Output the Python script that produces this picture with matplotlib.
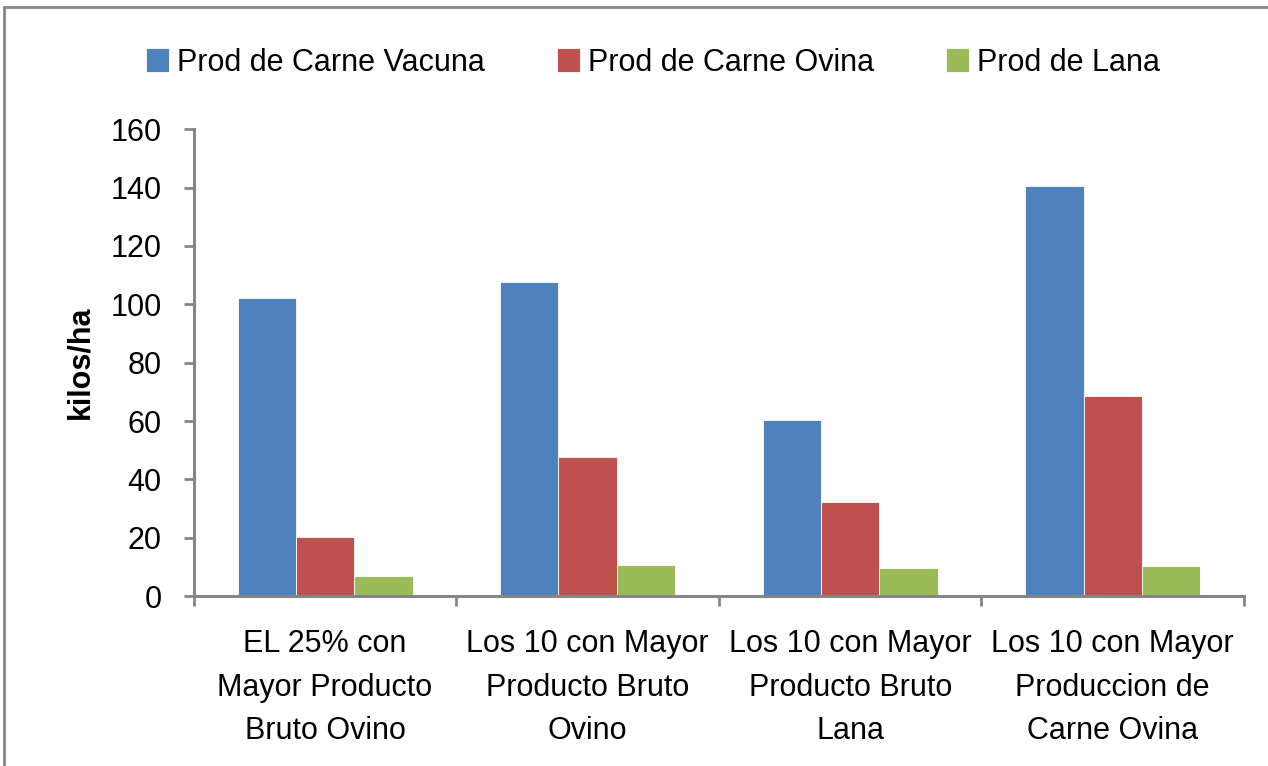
import numpy as np
import matplotlib
matplotlib.use("Agg")
import matplotlib.pyplot as plt
from matplotlib.patches import Rectangle

plt.rcParams['font.family'] = ['Liberation Sans', 'DejaVu Sans']

categories = ["EL 25% con\nMayor Producto\nBruto Ovino",
              "Los 10 con Mayor\nProducto Bruto\nOvino",
              "Los 10 con Mayor\nProducto Bruto\nLana",
              "Los 10 con Mayor\nProduccion de\nCarne Ovina"]
series_names = ["Prod de Carne Vacuna", "Prod de Carne Ovina", "Prod de Lana"]
vacuna = [102.3, 107.8, 60.4, 140.6]
ovina = [20.3, 47.7, 32.2, 68.7]
lana = [6.9, 10.5, 9.5, 10.4]
colors = ["#4f81bd", "#c0504d", "#9bbb59"]

fig = plt.figure(figsize=(12.68, 7.66), dpi=100)
ax = fig.add_axes([0.1528, 0.2219, 0.8283, 0.6093])

# outer chart border (right and bottom edges fall outside the picture)
fig.patches.append(Rectangle((4/1268, -0.05), 1.1, 1.05 - 7/766,
                             transform=fig.transFigure, fill=False,
                             edgecolor="#868686", linewidth=2))

x = np.arange(len(categories))
w = 1 / 4.5
for i, (vals, name) in enumerate(zip([vacuna, ovina, lana], series_names)):
    ax.bar(x + (i - 1) * w, vals, width=w, color=colors[i], label=name,
           edgecolor="white", linewidth=0.6)

ax.set_xlim(-0.5, 3.5)
ax.set_ylim(0, 160)
ax.set_yticks(range(0, 161, 20))
ax.set_xticks(x)
ax.set_xticklabels(categories, fontsize=22, linespacing=1.58)
ax.set_xticks(np.arange(-0.5, 3.6, 1), minor=True)
ax.tick_params(axis='x', which='major', length=0, pad=24)
ax.tick_params(axis='x', which='minor', length=7.2, width=2, color="#868686", direction='out')
ax.tick_params(axis='y', length=7.2, width=2, color="#868686", labelsize=22, pad=16)

for s in ['top', 'right']:
    ax.spines[s].set_visible(False)
for s in ['left', 'bottom']:
    ax.spines[s].set_color("#868686")
    ax.spines[s].set_linewidth(2.2)

ax.set_ylabel("kilos/ha", fontsize=22, fontweight='bold')
ax.yaxis.set_label_coords(-0.094, 0.5)

fig.legend(loc='center', bbox_to_anchor=(0.515, 0.918), ncol=3, frameon=False,
           fontsize=22, handlelength=0.75, handleheight=0.85, handletextpad=0.26,
           columnspacing=2.35)

plt.savefig("out.png", dpi=100)
